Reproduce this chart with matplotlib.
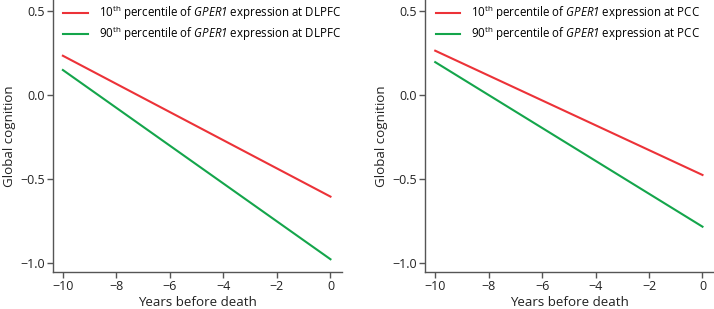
import matplotlib
matplotlib.use("Agg")
import matplotlib.pyplot as plt

plt.rcParams["font.family"] = "Open Sans"
plt.rcParams["mathtext.fontset"] = "custom"
plt.rcParams["mathtext.rm"] = "Open Sans"
plt.rcParams["mathtext.it"] = "Open Sans:italic"
# sf slot used for the italic gene name, so the digit stays italic too
plt.rcParams["mathtext.sf"] = "Open Sans:italic"

# data (straight fitted lines, two end points each)
years = [-10, 0]
dlpfc_p10 = [0.234, -0.605]
dlpfc_p90 = [0.149, -0.978]
pcc_p10 = [0.264, -0.476]
pcc_p90 = [0.196, -0.784]

regions = ["DLPFC", "PCC"]
xticks = [-10, -8, -6, -4, -2, 0]
yticks = [0.5, 0.0, -0.5, -1.0]

red = "#ec3238"
green = "#14a54b"
spine_col = "#555555"

fig = plt.figure(figsize=(7.14, 3.09), dpi=100)
ax1 = fig.add_axes([0.0742, 0.1197, 0.4044, 0.8803])
ax2 = fig.add_axes([0.5957, 0.1197, 0.4039, 0.8803])

panels = [(ax1, dlpfc_p10, dlpfc_p90, regions[0]),
          (ax2, pcc_p10, pcc_p90, regions[1])]

for ax, p10, p90, reg in panels:
    ax.plot(years, p10, color=red, lw=1.5,
            label=r"10$^{\rm th}$ percentile of $\mathsf{GPER1}$ expression at " + reg)
    ax.plot(years, p90, color=green, lw=1.5,
            label=r"90$^{\rm th}$ percentile of $\mathsf{GPER1}$ expression at " + reg)
    ax.set_xlim(-10.37, 0.42)
    ax.set_ylim(-1.054, 0.566)
    ax.set_xticks(xticks)
    ax.set_xticklabels(["\u221210", "\u22128", "\u22126", "\u22124", "\u22122", "0"])
    ax.set_yticks(yticks)
    ax.set_yticklabels(["0.5", "0.0", "\u22120.5", "\u22121.0"])
    for s in ["top", "right"]:
        ax.spines[s].set_visible(False)
    for s in ["left", "bottom"]:
        ax.spines[s].set_color(spine_col)
        ax.spines[s].set_linewidth(1.0)
    ax.tick_params(direction="out", length=4, width=1.0, color=spine_col,
                   labelsize=9, labelcolor="#222222", pad=2)
    ax.set_xlabel("Years before death", fontsize=9.6, color="#222222", labelpad=2)
    ax.set_ylabel("Global cognition", fontsize=9.6, color="#222222", labelpad=3)
    ax.legend(loc="upper left", frameon=False, fontsize=8.3, handlelength=2.1,
              handletextpad=0.95, labelspacing=0.12, borderaxespad=0.3,
              bbox_to_anchor=(0.008, 1.017))

fig.savefig("out.png", dpi=100)
